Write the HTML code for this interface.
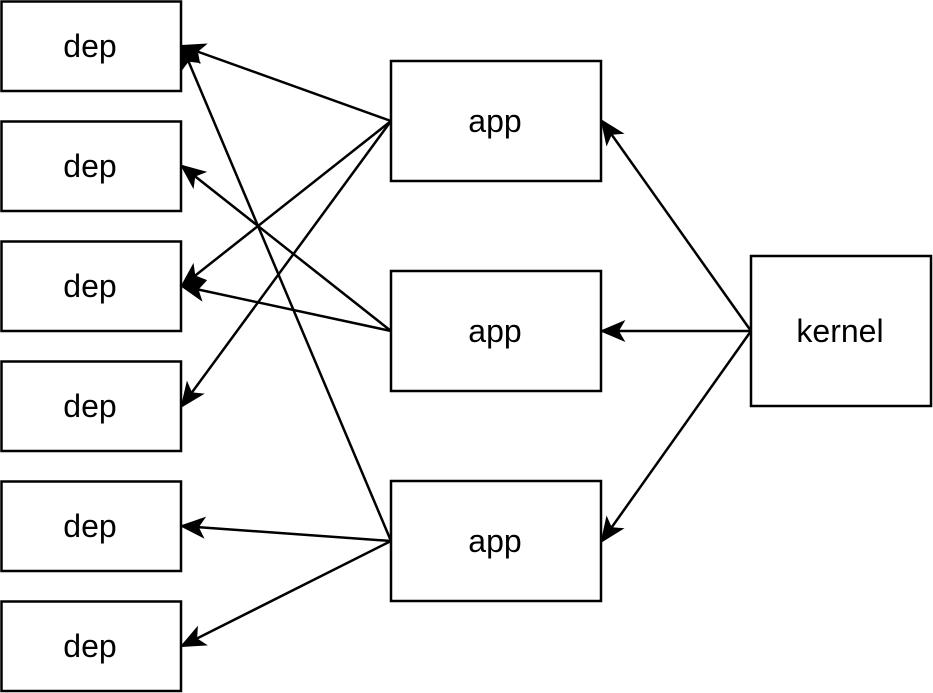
<!DOCTYPE html>
<html><head><meta charset="utf-8"><style>
html,body{margin:0;padding:0;background:#fff;}
svg{display:block;}
text{font-family:"Liberation Sans",Arial,sans-serif;font-size:32px;fill:#000;}
</style></head><body>
<svg width="933" height="693" viewBox="0 0 933 693" xmlns="http://www.w3.org/2000/svg">
<defs>
<marker id="a" viewBox="0 0 20 20" refX="18" refY="10" markerWidth="26" markerHeight="26" markerUnits="userSpaceOnUse" orient="auto">
<path d="M0,1.5 L20,10 L0,18.5 L5,10 Z" fill="#000"/>
</marker>
</defs>
<g fill="#fff" stroke="#000" stroke-width="2.5">
<rect x="1.5" y="1.5" width="179.5" height="89.5"/>
<rect x="1.5" y="121.5" width="179.5" height="89.5"/>
<rect x="1.5" y="241.5" width="179.5" height="89.5"/>
<rect x="1.5" y="361.5" width="179.5" height="89.5"/>
<rect x="1.5" y="481.5" width="179.5" height="89.5"/>
<rect x="1.5" y="601.5" width="179.5" height="89.5"/>
<rect x="391" y="61" width="210" height="120"/>
<rect x="391" y="271" width="210" height="120"/>
<rect x="391" y="481" width="210" height="120"/>
<rect x="751" y="256" width="180" height="150"/>
</g>
<g stroke="#000" stroke-width="2.5" fill="none" marker-end="url(#a)">
<line x1="391" y1="121" x2="182" y2="46"/>
<line x1="391" y1="121" x2="182" y2="286"/>
<line x1="391" y1="121" x2="182" y2="406"/>
<line x1="391" y1="331" x2="182" y2="166"/>
<line x1="391" y1="331" x2="182" y2="286"/>
<line x1="391" y1="541" x2="182" y2="46"/>
<line x1="391" y1="541" x2="182" y2="526"/>
<line x1="391" y1="541" x2="182" y2="646"/>
<line x1="751" y1="331" x2="602" y2="121"/>
<line x1="751" y1="331" x2="602" y2="331"/>
<line x1="751" y1="331" x2="602" y2="541"/>
</g>
<g text-anchor="middle">
<text x="90" y="57">dep</text>
<text x="90" y="177">dep</text>
<text x="90" y="297">dep</text>
<text x="90" y="417">dep</text>
<text x="90" y="537">dep</text>
<text x="90" y="657">dep</text>
<text x="495" y="132">app</text>
<text x="495" y="342">app</text>
<text x="495" y="552">app</text>
<text x="840" y="342">kernel</text>
</g>
</svg>
</body></html>
